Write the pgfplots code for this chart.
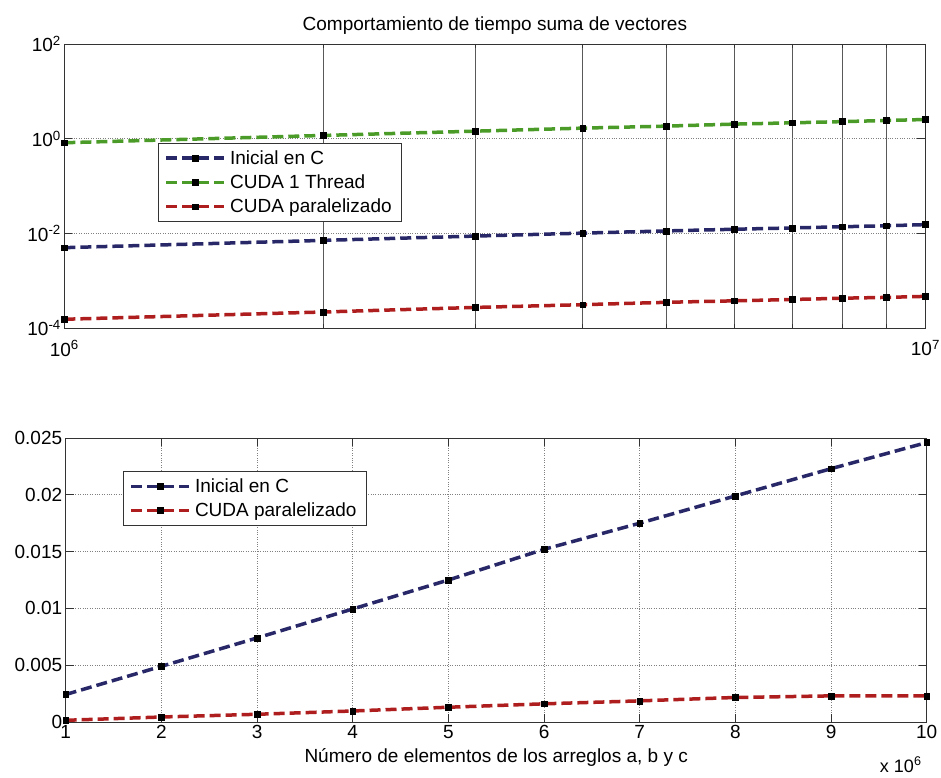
\documentclass[border=0pt]{standalone}
\usepackage{fontspec}
\setmainfont{Liberation Sans}
\usepackage{pgfplots}
\pgfplotsset{compat=1.18}
\definecolor{cblue}{RGB}{40,40,105}
\definecolor{cgreen}{RGB}{75,155,40}
\definecolor{cred}{RGB}{175,30,30}
\pgfplotsset{
  every axis/.append style={font=\fontsize{19}{22}\selectfont, scale only axis, width=861pt, height=284pt,
    tick align=inside, major tick length=8pt, minor tick length=4pt,
    axis line style={black!80, line width=0.8pt}, every tick/.style={black!80, line width=0.8pt},
    /pgf/number format/assume math mode=true, legend cell align=left,
    legend style={draw=black!80, line width=0.8pt, inner xsep=6pt, inner ysep=5pt, row sep=5pt, font=\fontsize{19}{22}\selectfont,
      nodes={inner xsep=4pt}}},
  myline/.style={line width=3.5pt, dash pattern=on 11pt off 5pt, mark=square*, mark size=2.9pt,
    mark options={solid, fill=black, draw=black, line width=0.5pt}},
  legend image code/.code={\draw[mark repeat=2,mark phase=2,#1] plot coordinates {(0pt,0pt) (29pt,0pt) (58pt,0pt)};},
}
\begin{document}
\begin{tikzpicture}
\useasboundingbox (0,0) rectangle (941pt,777pt);
\begin{axis}[at={(64.3pt,449pt)}, anchor=south west,
  xmode=log, ymode=log, xmin=1e6, xmax=1e7, ymin=1e-4, ymax=1e2,
  xtick={1e6,1e7}, xticklabels={10\textsuperscript{6},10\textsuperscript{7}},
  xticklabel style={yshift=-9pt},
  minor xtick={2e6,3e6,4e6,5e6,6e6,7e6,8e6,9e6},
  ytick={1e-4,1e-2,1,1e2}, yticklabels={10\textsuperscript{-4},10\textsuperscript{-2},10\textsuperscript{0},10\textsuperscript{2}},
  minor ytick={}, 
  xminorgrids=true, ymajorgrids=true,
  minor x grid style={black!65, line width=0.6pt},
  major y grid style={dotted, black!50, line width=0.8pt},
  title={Comportamiento de tiempo suma de vectores},
  legend style={at={(0.109,0.651)}, anchor=north west},
]
\addplot[myline, cblue] coordinates {(1e6,0.00498) (2e6,0.0071) (3e6,0.00875) (4e6,0.0101) (5e6,0.01124) (6e6,0.0122) (7e6,0.0130) (8e6,0.01377) (9e6,0.01445) (1e7,0.01528)};
\addlegendentry{Inicial en C}
\addplot[myline, cgreen] coordinates {(1e6,0.82) (2e6,1.17) (3e6,1.44) (4e6,1.67) (5e6,1.84) (6e6,2.03) (7e6,2.16) (8e6,2.29) (9e6,2.42) (1e7,2.54)};
\addlegendentry{CUDA 1 Thread}
\addplot[myline, cred] coordinates {(1e6,1.53e-4) (2e6,2.18e-4) (3e6,2.72e-4) (4e6,3.11e-4) (5e6,3.49e-4) (6e6,3.75e-4) (7e6,4.0e-4) (8e6,4.26e-4) (9e6,4.43e-4) (1e7,4.66e-4)};
\addlegendentry{CUDA paralelizado}
\end{axis}
\begin{axis}[name=bot, at={(65.7pt,55pt)}, anchor=south west,
  xmin=1, xmax=10, ymin=0, ymax=0.025,
  xtick={1,2,3,4,5,6,7,8,9,10},
  ytick={0,0.005,0.01,0.015,0.02,0.025}, yticklabels={0,0.005,0.01,0.015,0.02,0.025},
  scaled y ticks=false,
  grid=major, grid style={dotted, black!50, line width=0.8pt},
  xlabel={Número de elementos de los arreglos a, b y c},
  xlabel style={yshift=-3pt},
  legend style={at={(0.0667,0.883)}, anchor=north west},
]
\addplot[myline, cblue] coordinates {(1,0.00242) (2,0.0049) (3,0.0074) (4,0.00995) (5,0.0125) (6,0.0152) (7,0.0175) (8,0.0199) (9,0.0223) (10,0.0246)};
\addlegendentry{Inicial en C}
\addplot[myline, cred] coordinates {(1,0.00015) (2,0.00044) (3,0.00068) (4,0.00097) (5,0.0013) (6,0.0016) (7,0.00186) (8,0.00216) (9,0.0023) (10,0.0023)};
\addlegendentry{CUDA paralelizado}
\end{axis}
\node[anchor=base east, inner sep=0pt, font=\fontsize{18}{20}\selectfont] at ([xshift=-5pt,yshift=-50pt]bot.south east) {x 10\textsuperscript{6}};
\end{tikzpicture}
\end{document}
